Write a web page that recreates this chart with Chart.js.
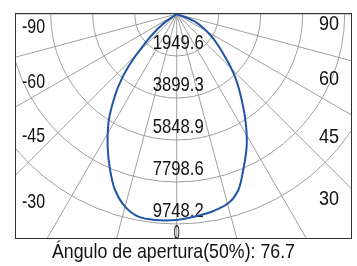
<!DOCTYPE html>
<html>
<head>
<meta charset="utf-8">
<script src="https://cdn.jsdelivr.net/npm/chart.js@4/dist/chart.umd.min.js"></script>
<style>
  html, body { margin: 0; padding: 0; background: #fff; }
  #wrap { width: 357px; height: 266px; }
</style>
</head>
<body>
<div id="wrap"><canvas id="myChart" width="357" height="266"></canvas></div>
<script>
// intensity curve (cd), angle in degrees from nadir
const angles    = [-90, -53.7, -47.3, -42.6, -38.8, -35, -32, -27.5, -23.1, -19.3, -15, -10.7, -6, 0, 4.2, 10, 15.2, 19.3, 23.1, 27.8, 32.3, 37.1, 42.9, 48.5, 57, 67.2, 90];
const intensity = [0, 863, 2005, 3324, 4331, 5255, 5984, 6944, 7877, 8657, 9261, 9576, 9613, 9563, 9465, 9321, 9108, 8657, 7873, 6963, 6002, 5004, 3974, 2994, 1936, 924, 0];

// rings and their labels
const rings      = [1949.6, 3899.3, 5848.9, 7798.6, 9748.2];
const ringLabels = ['1949.6', '3899.3', '5848.9', '7798.6', '9748.2'];
const spokes     = [-90, -75, -60, -45, -30, -15, 0, 15, 30, 45, 60, 75, 90];
const leftLabels  = ['-90', '-60', '-45', '-30'];
const rightLabels = ['90', '60', '45', '30'];
const caption = 'Ángulo de apertura(50%): 76.7';

const pts = angles.map((a, i) => {
  const t = a * Math.PI / 180;
  return { x: intensity[i] * Math.sin(t), y: -intensity[i] * Math.cos(t) };
});

const FONT = '21px "Liberation Sans", Arial, sans-serif';

function txt(ctx, s, x, y, w, align) {
  ctx.save();
  const m = ctx.measureText(s).width;
  ctx.translate(x, y);
  ctx.scale(w / m, 1);
  ctx.textAlign = align;
  ctx.fillText(s, 0, 0);
  ctx.restore();
}

const polarGrid = {
  id: 'polarGrid',
  beforeDatasetsDraw(chart) {
    const ctx = chart.ctx, a = chart.chartArea;
    const sx = chart.scales.x, sy = chart.scales.y;
    const cx = sx.getPixelForValue(0), cy = sy.getPixelForValue(0);
    ctx.save();
    ctx.beginPath();
    ctx.rect(a.left, a.top, a.right - a.left, a.bottom - a.top);
    ctx.clip();
    ctx.strokeStyle = '#a0a0a0';
    ctx.lineWidth = 1;
    rings.forEach(v => {
      const r = sx.getPixelForValue(v) - cx;
      ctx.beginPath();
      ctx.arc(cx, cy, r, 0, Math.PI);
      ctx.stroke();
    });
    spokes.forEach(d => {
      const t = d * Math.PI / 180;
      ctx.beginPath();
      ctx.moveTo(cx, cy);
      ctx.lineTo(cx + 600 * Math.sin(t), cy + 600 * Math.cos(t));
      ctx.stroke();
    });
    ctx.restore();

    // labels
    ctx.save();
    ctx.font = FONT;
    ctx.fillStyle = '#111';
    ctx.textBaseline = 'middle';
    rings.forEach((v, i) => {
      const y = sy.getPixelForValue(-v) - 13;
      txt(ctx, ringLabels[i], cx + 1.5, y, 51, 'center');
    });
    const ly = [27, 82, 136, 202];
    const ry = [24, 79, 137, 199];
    leftLabels.forEach((s, i) => txt(ctx, s, a.left + 7, ly[i], 23, 'left'));
    rightLabels.forEach((s, i) => txt(ctx, s, a.right - 33, ry[i], 20, 'left'));
    txt(ctx, '0', cx, a.bottom - 6, 6, 'center');
    txt(ctx, caption, 52, 252, 243, 'left');
    ctx.restore();
  },
  afterDraw(chart) {
    const ctx = chart.ctx, a = chart.chartArea;
    ctx.save();
    ctx.strokeStyle = '#333';
    ctx.lineWidth = 1;
    ctx.strokeRect(a.left + 0.5, a.top + 0.5, a.right - a.left - 1, a.bottom - a.top - 1);
    ctx.restore();
  }
};

const ctx = document.getElementById('myChart');
const myChart = new Chart(ctx, {
  type: 'scatter',
  data: {
    datasets: [{
      data: pts,
      showLine: true,
      pointRadius: 0,
      borderColor: '#2154a6',
      borderWidth: 2,
      tension: 0.3,
      fill: false
    }]
  },
  options: {
    responsive: false,
    animation: false,
    devicePixelRatio: 1,
    layout: { padding: { left: 15, top: 13, right: 5, bottom: 27 } },
    scales: {
      x: { type: 'linear', min: -7506, max: 8137, display: false },
      y: { type: 'linear', min: -10445, max: 46, display: false }
    },
    plugins: {
      legend: { display: false },
      tooltip: { enabled: false }
    }
  },
  plugins: [polarGrid]
});
</script>
</body>
</html>
